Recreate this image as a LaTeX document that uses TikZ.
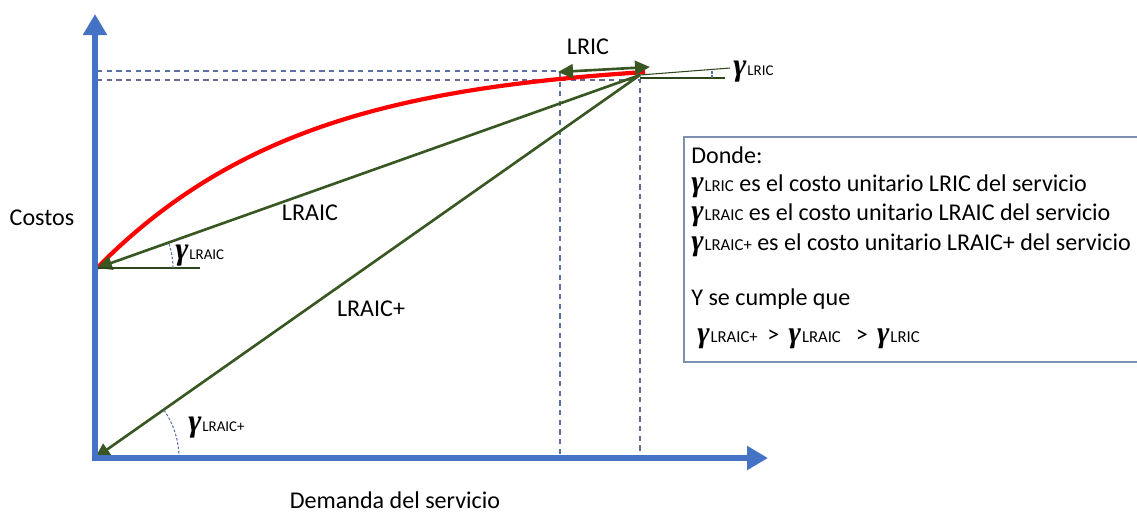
\documentclass[tikz,border=0pt]{standalone}
\usepackage{fontspec}
\setmainfont{Carlito}
\newfontfamily\gfont{Liberation Serif}
\usetikzlibrary{arrows.meta}
\definecolor{axblue}{HTML}{4472C4}
\definecolor{dkgreen}{HTML}{385723}
\definecolor{dashblue}{HTML}{5B6FA8}
\definecolor{boxline}{HTML}{7F8FB0}
\newcommand{\gamsym}[2]{{\fontsize{#1}{#1}\gfont\bfseries\itshape γ}{\fontsize{#2}{#2}\selectfont\kern0.5pt}}
\newcommand{\gamlab}[3]{\gamsym{#1}{#2}{\fontsize{#2}{#2}\selectfont #3}}
\tikzset{
  axis/.style={axblue, line width=3.4pt, -{Triangle[length=0.42cm,width=0.46cm]}},
  garrow/.style={dkgreen, line width=1.5pt, -{Triangle[length=0.3cm,width=0.28cm]}},
  gdouble/.style={dkgreen, line width=1.5pt, {Triangle[length=0.3cm,width=0.28cm]}-{Triangle[length=0.3cm,width=0.28cm]}},
  thinline/.style={dkgreen!80!black, line width=0.6pt},
  guide/.style={dashblue, line width=0.6pt, dash pattern=on 3pt off 2.5pt},
  anglearc/.style={dashblue, line width=0.6pt, dash pattern=on 1.5pt off 1pt},
  lbl/.style={font=\fontsize{13.7}{15}\selectfont, inner sep=0pt},
  boxtxt/.style={font=\fontsize{13.7}{15}\selectfont, inner sep=0pt, anchor=west, text height=9pt, text depth=2.5pt},
}
\begin{document}
\begin{tikzpicture}[x=0.02cm,y=-0.02cm]
\useasboundingbox (0,0) rectangle (1137,512);
% key points
\coordinate (P) at (640,75);
\coordinate (A) at (97,268);
\coordinate (O) at (95,458);
\coordinate (ytop) at (95,14);
\coordinate (yb) at (95,461);
\coordinate (xl) at (92,458);
\coordinate (xr) at (768,458);
% dashed guides
\coordinate (g1a) at (97,71);
\coordinate (g1b) at (560,71);
\coordinate (g2a) at (97,80);
\coordinate (g2b) at (640,80);
\coordinate (v1b) at (560,456);
\coordinate (v2b) at (640,456);
\draw[guide] (g1a) -- (g1b) -- (v1b);
\draw[guide, gray!80!blue] (g2a) -- (g2b) -- (v2b);
% red curve
\draw[red, line width=2.4pt] (A) .. controls (235,128) and (400,88) .. (645,72);
% LRAIC and LRAIC+ arrows
\draw[garrow] (P) -- (A);
\draw[garrow] (P) -- (O);
% LRIC double arrow
\coordinate (L1) at (558,72);
\coordinate (L2) at (650,67);
\draw[gdouble] (L1) -- (L2);
% gamma LRIC lines
\coordinate (r1) at (730,68);
\coordinate (r2) at (725,78);
\coordinate (Pb) at (640,78);
\draw[thinline] (P) -- (r1);
\draw[thinline] (Pb) -- (r2);
\draw[anglearc] (712,78) -- (712,70);
% LRAIC horizontal
\coordinate (A2) at (200,268);
\draw[thinline] (A) -- (A2);
\draw[anglearc] (A) ++(0:76) arc[start angle=0, end angle=-20, radius=76];
% LRAIC+ arc
\draw[anglearc] (O) ++(0:84) arc[start angle=0, end angle=-35, radius=84];
% axes
\draw[axis] (yb) -- (ytop);
\draw[axis] (xl) -- (xr);
% labels
\node[lbl] (tLRIC) at (588,47) {LRIC};
\node[lbl, anchor=west] (gLRIC) at (733,72) {\gamlab{18}{8.5}{LRIC}};
\node[lbl] (tLRAIC) at (310,213) {LRAIC};
\node[lbl, anchor=west] (gLRAIC) at (175,256) {\gamlab{18}{8.5}{LRAIC}};
\node[lbl] (tLRAICp) at (371,309) {LRAIC+};
\node[lbl, anchor=west] (gLRAICp) at (188,428) {\gamlab{18}{8.5}{LRAIC+}};
\node[lbl] (costos) at (42,218) {Costos};
\node[lbl] (demanda) at (395,500) {Demanda del servicio};
% box
\draw[boxline, line width=0.8pt] (684,137) rectangle (1150,362);
\node[boxtxt] (b1) at (691,158) {Donde:};
\node[boxtxt] (b2) at (691,186) {\gamlab{17}{9.5}{LRIC} es el costo unitario LRIC del servicio};
\node[boxtxt] (b3) at (691,215) {\gamlab{17}{9.5}{LRAIC} es el costo unitario LRAIC del servicio};
\node[boxtxt] (b4) at (691,245) {\gamlab{17}{9.5}{LRAIC+} es el costo unitario LRAIC+ del servicio};
\node[boxtxt] (b5) at (691,300) {Y se cumple que};
\node[boxtxt] (b6) at (697,337) {\gamlab{17}{9.5}{LRAIC+}\,\ >\ \,\gamlab{17}{9.5}{LRAIC}\ \ \,>\ \,\gamlab{17}{9.5}{LRIC}};
\end{tikzpicture}
\end{document}
